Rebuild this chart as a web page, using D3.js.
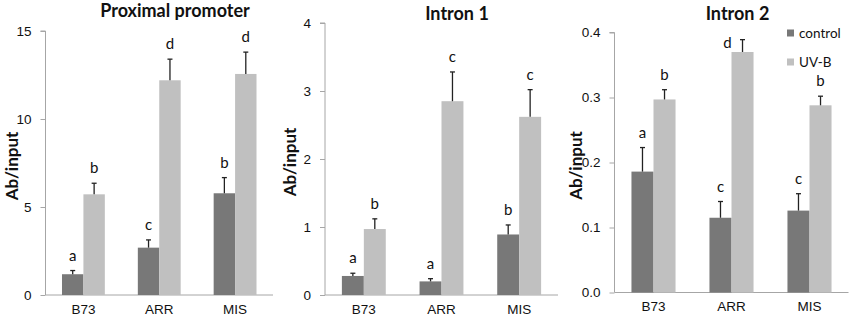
<!DOCTYPE html>
<html>
<head>
<meta charset="utf-8">
<script src="https://cdn.jsdelivr.net/npm/d3@7"></script>
<style>
    body { margin: 0; background: #fff; }
    svg { display: block; font-family: Lato, 'Liberation Sans', sans-serif; }
</style>
</head>
<body>
<svg id="chart" width="851" height="323"></svg>
<script>
const categories = ['B73', 'ARR', 'MIS'];
const seriesNames = ['control', 'UV-B'];

// Proximal promoter
const promoterControl = [1.18, 2.69, 5.78];
const promoterControlErr = [0.21, 0.44, 0.89];
const promoterUvb = [5.72, 12.2, 12.56];
const promoterUvbErr = [0.63, 1.2, 1.24];
const promoterLetters = [['a', 'c', 'b'], ['b', 'd', 'd']];

// Intron 1
const intron1Control = [0.28, 0.2, 0.89];
const intron1ControlErr = [0.04, 0.04, 0.14];
const intron1Uvb = [0.97, 2.85, 2.62];
const intron1UvbErr = [0.15, 0.43, 0.4];
const intron1Letters = [['a', 'a', 'b'], ['b', 'c', 'c']];

// Intron 2
const intron2Control = [0.186, 0.115, 0.126];
const intron2ControlErr = [0.037, 0.025, 0.026];
const intron2Uvb = [0.297, 0.37, 0.288];
const intron2UvbErr = [0.015, 0.019, 0.014];
const intron2Letters = [['a', 'c', 'c'], ['b', 'd', 'b']];

const panels = [
    {title: 'Proximal promoter', max: 15, ticks: [0, 5, 10, 15], fmt: d3.format('d'),
     control: promoterControl, controlErr: promoterControlErr, uvb: promoterUvb, uvbErr: promoterUvbErr,
     letters: promoterLetters,
     left: 45.5, right: 273, top: 31, bottom: 295, titleX: 175, titleY: 17, labelX: 18},
    {title: 'Intron 1', max: 4, ticks: [0, 1, 2, 3, 4], fmt: d3.format('d'),
     control: intron1Control, controlErr: intron1ControlErr, uvb: intron1Uvb, uvbErr: intron1UvbErr,
     letters: intron1Letters,
     left: 325, right: 558, top: 23, bottom: 295, titleX: 457, titleY: 20, labelX: 296},
    {title: 'Intron 2', max: 0.4, ticks: [0, 0.1, 0.2, 0.3, 0.4], fmt: d3.format('.1f'),
     control: intron2Control, controlErr: intron2ControlErr, uvb: intron2Uvb, uvbErr: intron2UvbErr,
     letters: intron2Letters,
     left: 614.5, right: 848.5, top: 32.5, bottom: 292.5, titleX: 737.5, titleY: 20, labelX: 582}
];

const colors = d3.scaleOrdinal().domain(seriesNames).range(['#787878', '#c0c0c0']);
const axisColor = '#a6a6a6';

const svg = d3.select('#chart');

panels.forEach((p) => {
    const x = d3.scaleBand()
        .domain(categories)
        .range([p.left, p.right])
        .paddingInner(0.435)
        .paddingOuter(0.2175);
    const x1 = d3.scaleBand()
        .domain(seriesNames)
        .range([0, x.bandwidth()]);
    const y = d3.scaleLinear()
        .domain([0, p.max])
        .range([p.bottom, p.top]);

    const g = svg.append('g');

    // y axis
    const yAxis = g.append('g')
        .attr('transform', 'translate(' + p.left + ',0)')
        .call(d3.axisLeft(y).tickValues(p.ticks).tickFormat(p.fmt).tickSize(5).tickPadding(9));
    yAxis.select('.domain').attr('stroke', axisColor).attr('d', 'M-5,' + p.top + 'H0V' + p.bottom);
    yAxis.selectAll('.tick line').attr('stroke', axisColor);
    yAxis.selectAll('.tick text')
        .attr('fill', '#111')
        .style('font-size', '13.5px');

    // x axis
    const xAxis = g.append('g')
        .attr('transform', 'translate(0,' + p.bottom + ')')
        .call(d3.axisBottom(x).tickSize(0).tickPadding(9));
    xAxis.select('.domain').attr('stroke', axisColor).attr('d', 'M' + p.left + ',0H' + p.right);
    xAxis.selectAll('.tick text')
        .attr('fill', '#111')
        .style('font-size', '13.5px');

    const rows = categories.map((c, i) => {
        return [
            {cat: c, name: 'control', value: p.control[i], err: p.controlErr[i], letter: p.letters[0][i]},
            {cat: c, name: 'UV-B', value: p.uvb[i], err: p.uvbErr[i], letter: p.letters[1][i]}
        ];
    });

    const group = g.selectAll('.grp')
        .data(rows)
        .enter()
    .append('g')
        .attr('class', 'grp')
        .attr('transform', (d) => { return 'translate(' + x(d[0].cat) + ',0)' });

    const bar = group.selectAll('.bar')
        .data((d) => { return d })
        .enter()
    .append('g')
        .attr('class', 'bar');

    bar.append('rect')
        .attr('x', (d) => { return x1(d.name) })
        .attr('width', x1.bandwidth())
        .attr('y', (d) => { return y(d.value) })
        .attr('height', (d) => { return p.bottom - y(d.value) })
        .attr('fill', (d) => { return colors(d.name) });

    // error bars (upper half only)
    const mid = (d) => { return x1(d.name) + x1.bandwidth() / 2 };
    bar.append('line')
        .attr('x1', mid)
        .attr('x2', mid)
        .attr('y1', (d) => { return y(d.value) })
        .attr('y2', (d) => { return y(d.value + d.err) })
        .attr('stroke', '#222')
        .attr('stroke-width', 1.3);
    bar.append('line')
        .attr('x1', (d) => { return mid(d) - 2.5 })
        .attr('x2', (d) => { return mid(d) + 2.5 })
        .attr('y1', (d) => { return y(d.value + d.err) })
        .attr('y2', (d) => { return y(d.value + d.err) })
        .attr('stroke', '#222')
        .attr('stroke-width', 1.3);

    // letters go above the error bar, or beside it when there's no room under the title
    const crowded = (d) => { return y(d.value + d.err) - 10 < p.top + 8 };
    bar.append('text')
        .attr('x', (d) => { return crowded(d) ? mid(d) - 15 : mid(d) })
        .attr('y', (d) => { return crowded(d) ? y(d.value + d.err) + 8 : y(d.value + d.err) - 10 })
        .attr('text-anchor', 'middle')
        .attr('fill', '#111')
        .style('font-size', '15px')
        .text((d) => { return d.letter });

    g.append('text')
        .attr('x', p.titleX)
        .attr('y', p.titleY)
        .attr('text-anchor', 'middle')
        .style('font-size', '18px')
        .style('font-weight', 'bold')
        .attr('fill', '#111')
        .text(p.title);

    g.append('text')
        .attr('transform', 'translate(' + p.labelX + ',' + ((p.top + p.bottom) / 2 + 3) + ') rotate(-90)')
        .attr('text-anchor', 'middle')
        .style('font-size', '17px')
        .style('font-weight', 'bold')
        .attr('fill', '#111')
        .text('Ab/input');
});

// legend
const legend = svg.append('g')
    .attr('transform', 'translate(787,33)');
const item = legend.selectAll('.item')
    .data(seriesNames)
    .enter()
.append('g')
    .attr('class', 'item')
    .attr('transform', (d, i) => { return 'translate(0,' + (i * 29) + ')' });
item.append('rect')
    .attr('x', 0)
    .attr('y', -3.5)
    .attr('width', 7)
    .attr('height', 7)
    .attr('fill', (d) => { return colors(d) });
item.append('text')
    .attr('x', 12)
    .attr('y', 4.5)
    .attr('fill', '#111')
    .style('font-size', '13.5px')
    .text((d) => { return d });
</script>
</body>
</html>
